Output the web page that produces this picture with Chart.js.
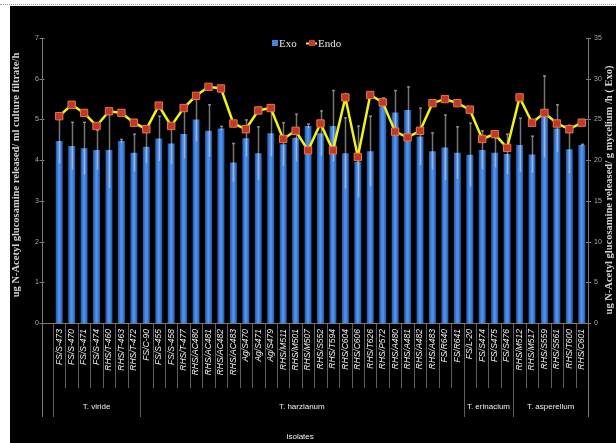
<!DOCTYPE html>
<html>
<head>
<meta charset="utf-8">
<script src="https://cdn.jsdelivr.net/npm/chart.js@4/dist/chart.umd.min.js"></script>
<style>
  html, body { margin: 0; padding: 0; background: #fff; width: 616px; height: 443px; overflow: hidden; }
  #topline { position: absolute; left: 0; top: 4px; width: 616px; border-top: 1px dotted #9a9a9a; }
  #wrap { position: absolute; left: 10px; top: 6px; width: 606px; height: 437px; background: #000; }
  canvas { display: block; }
</style>
</head>
<body>
<div id="topline"></div>
<div id="wrap"><canvas id="c" width="606" height="437"></canvas></div>
<script>
// Isolates along the x axis
const isolates = [
  'FS/S-473', 'FS/S-470', 'FS/S-471', 'FS/S-474', 'RHS/T-460', 'RHS/T-463', 'RHS/T-472',
  'FS/C-90', 'FS/S-455', 'FS/S-458', 'RHS/T-477', 'RHS/AC480', 'RHS/AC481', 'RHS/AC482',
  'RHS/AC483', 'Ag/S470', 'Ag/S471', 'Ag/S479', 'RHS/M511', 'RHS/M501', 'RHS/M507',
  'RHS/S552', 'RHS/T594', 'RHS/C604', 'RHS/C606', 'RHS/T626', 'RHS/P572', 'RHS/A480',
  'RHS/A481', 'RHS/A482', 'RHS/A483', 'FS/R640', 'FS/R641',
  'FS/L-20', 'FS/S474', 'FS/S475', 'FS/S476',
  'RHS/M512', 'RHS/M517', 'RHS/S559', 'RHS/S561', 'RHS/T600', 'RHS/C601'
];

// Species groups (consecutive isolates)
const groupNames = ['T. viride', 'T. harzianum', 'T. erinacium', 'T. asperellum'];
const groupSizes = [7, 26, 4, 6];

// Exochitinase activity (left axis) with its standard deviation
const exo = [
  4.47, 4.35, 4.29, 4.25, 4.25, 4.47, 4.18, 4.33, 4.53, 4.41, 4.64, 5.00, 4.72, 4.78,
  3.94, 4.54, 4.17, 4.66, 4.39, 4.55, 4.84, 4.66, 4.84, 4.17, 3.96, 4.22, 5.48, 5.17,
  5.23, 4.58, 4.22, 4.31, 4.18, 4.13, 4.25, 4.18, 4.15, 4.37, 4.14, 5.07, 4.78, 4.27, 4.37
];
const exoErr = [
  0.55, 0.58, 0.64, 0.49, 0.93, 0.04, 0.46, 0.40, 0.55, 0.50, 0.60, 0.53, 0.64, 0.05,
  0.47, 0.45, 0.65, 0.57, 0.53, 0.58, 0.05, 0.55, 0.87, 0.87, 0.88, 0.86, 0.05, 0.54,
  0.57, 0.70, 0.45, 0.80, 0.64, 0.78, 0.47, 0.36, 0.49, 0.66, 0.45, 1.00, 0.58, 0.59, 0.02
];

// Endochitinase activity (right axis)
const endo = [
  25.4, 26.8, 25.8, 24.2, 26.0, 25.8, 24.6, 23.8, 26.7, 24.2, 26.4, 27.9, 29.0, 28.8,
  24.5, 23.8, 26.1, 26.4, 22.6, 23.6, 21.2, 24.5, 21.2, 27.7, 20.4, 28.0, 27.1, 23.5,
  22.8, 23.6, 27.0, 27.5, 27.0, 26.2, 22.6, 23.2, 21.5, 27.7, 24.6, 25.8, 24.5, 23.8, 24.6
];

const leftTitle = 'ug N-Acetyl glucosamine released/ ml culture filtrate/h';
const rightTitle = 'ug N-Acetyl glucosamine released/ g mycelium /h ( Exo)';
const xTitle = 'Isolates';

const BAR_FRAC = 0.56;

function barGradient(c) {
  const ch = c.chart;
  const xs = ch.scales && ch.scales.x;
  if (!xs || c.type !== 'data' || !isFinite(xs.getPixelForValue(c.dataIndex))) return '#3a7bd5';
  const cx = xs.getPixelForValue(c.dataIndex);
  const hw = (xs.width / isolates.length) * BAR_FRAC / 2;
  const g = ch.ctx.createLinearGradient(cx - hw, 0, cx + hw, 0);
  g.addColorStop(0, '#2456a8');
  g.addColorStop(0.45, '#4f95ee');
  g.addColorStop(0.6, '#4a8ee8');
  g.addColorStop(1, '#2456a8');
  return g;
}

function seg(ctx, x1, y1, x2, y2) {
  ctx.beginPath(); ctx.moveTo(x1, y1); ctx.lineTo(x2, y2); ctx.stroke();
}

// Axis lines, category dividers and group separators
const frame = {
  id: 'frame',
  beforeDatasetsDraw(chart) {
    const { ctx, chartArea: a, scales: { y, y2 } } = chart;
    const n = isolates.length;
    const w = (a.right - a.left) / n;
    const axisX = Math.round(a.left - 11) + 0.5;
    const bounds = new Set([0]);
    let acc = 0;
    groupSizes.forEach(s => { acc += s; bounds.add(acc); });
    ctx.save();
    ctx.lineWidth = 1;
    ctx.strokeStyle = '#5e5e5e';
    for (let i = 0; i <= n; i++) {
      const px = Math.round(a.left + i * w) + 0.5;
      seg(ctx, px, a.bottom, px, a.bottom + (bounds.has(i) ? 94 : 65));
    }
    ctx.strokeStyle = '#7a7a7a';
    seg(ctx, axisX, a.top, axisX, a.bottom + 94);
    seg(ctx, a.right + 0.5, a.top, a.right + 0.5, a.bottom + 94);
    seg(ctx, axisX, a.bottom + 0.5, a.right, a.bottom + 0.5);
    y.ticks.forEach(t => {
      const py = Math.round(y.getPixelForValue(t.value)) + 0.5;
      seg(ctx, axisX - 3, py, axisX + 2, py);
    });
    y2.ticks.forEach(t => {
      const py = Math.round(y2.getPixelForValue(t.value)) + 0.5;
      seg(ctx, a.right - 2, py, a.right + 3, py);
    });
    ctx.restore();
  },
  // error whiskers drawn right after the bars, beneath the line
  afterDatasetDraw(chart, args) {
    if (args.index !== 0) return;
    const { ctx, scales: { x, y } } = chart;
    ctx.save();
    ctx.strokeStyle = 'rgba(215,215,215,0.55)';
    ctx.lineWidth = 1.5;
    exo.forEach((v, i) => {
      const px = Math.round(x.getPixelForValue(i)) + 0.5;
      const top = y.getPixelForValue(v + exoErr[i]);
      const bot = y.getPixelForValue(v - exoErr[i]);
      seg(ctx, px, top, px, bot);
      seg(ctx, px - 1.5, top, px + 1.5, top);
    });
    ctx.restore();
  },
  afterDraw(chart) {
    const { ctx, chartArea: a } = chart;
    const n = isolates.length;
    const w = (a.right - a.left) / n;
    ctx.save();
    // axis titles
    ctx.fillStyle = '#d4d4d4';
    ctx.font = 'bold 10.5px "Liberation Serif", serif';
    ctx.textAlign = 'center';
    ctx.textBaseline = 'middle';
    ctx.save();
    ctx.translate(6, 169);
    ctx.rotate(-Math.PI / 2);
    ctx.fillText(leftTitle, 0, 0);
    ctx.restore();
    ctx.save();
    ctx.translate(599, 184);
    ctx.rotate(-Math.PI / 2);
    ctx.fillText(rightTitle, 0, 0);
    ctx.restore();
    // group names
    ctx.fillStyle = '#f0f0f0';
    ctx.font = '8px "Liberation Sans", sans-serif';
    let start = 0;
    groupSizes.forEach((s, gi) => {
      const cx = a.left + (start + s / 2) * w;
      ctx.fillText(groupNames[gi], cx, 401);
      start += s;
    });
    ctx.fillText(xTitle, 290, 431);
    // legend
    const ds = chart.data.datasets;
    ctx.font = '11px "Liberation Serif", serif';
    ctx.textAlign = 'left';
    ctx.fillStyle = '#3f86e0';
    ctx.fillRect(262, 34, 6, 6);
    ctx.fillStyle = '#e6e6e6';
    ctx.fillText(ds[0].label, 269, 38);
    ctx.strokeStyle = '#f2f21a';
    ctx.lineWidth = 2;
    seg(ctx, 296, 37.5, 307, 37.5);
    ctx.fillStyle = '#c73a28';
    ctx.fillRect(299, 34, 6, 6);
    ctx.fillStyle = '#e6e6e6';
    ctx.fillText(ds[1].label, 308, 38);
    ctx.restore();
  }
};

new Chart(document.getElementById('c'), {
  data: {
    labels: isolates,
    datasets: [
      {
        type: 'bar',
        label: 'Exo',
        data: exo,
        yAxisID: 'y',
        order: 1,
        backgroundColor: barGradient,
        borderWidth: 0,
        categoryPercentage: 1,
        barPercentage: BAR_FRAC
      },
      {
        type: 'line',
        label: 'Endo',
        data: endo,
        yAxisID: 'y2',
        order: 0,
        borderColor: '#f2f21a',
        borderWidth: 2.5,
        tension: 0,
        pointStyle: 'rect',
        pointRadius: 5.2,
        pointBackgroundColor: '#c53626',
        pointBorderColor: '#e07a4a',
        pointBorderWidth: 1
      }
    ]
  },
  options: {
    responsive: false,
    animation: false,
    devicePixelRatio: 1,
    layout: { padding: { top: 32, left: 0, right: 0, bottom: 0 } },
    plugins: { legend: { display: false }, tooltip: { enabled: false }, title: { display: false } },
    scales: {
      x: {
        type: 'category',
        offset: true,
        grid: { display: false, drawTicks: false },
        border: { display: false },
        ticks: {
          color: '#eeeeee',
          font: { family: '"Liberation Sans", sans-serif', size: 8.5, style: 'italic' },
          minRotation: 90,
          maxRotation: 90,
          autoSkip: false,
          padding: 6
        },
        afterFit(s) { s.height = 120; }
      },
      y: {
        position: 'left',
        min: 0,
        max: 7,
        grid: { display: false, drawTicks: false },
        border: { display: false },
        ticks: { stepSize: 1, color: '#a8a8a8', padding: 14, font: { family: '"Liberation Sans", sans-serif', size: 7 } },
        afterFit(s) { s.width = 43; }
      },
      y2: {
        position: 'right',
        min: 0,
        max: 35,
        grid: { display: false, drawTicks: false },
        border: { display: false },
        ticks: { stepSize: 5, color: '#a8a8a8', padding: 6, font: { family: '"Liberation Sans", sans-serif', size: 7 } },
        afterFit(s) { s.width = 28; }
      }
    }
  },
  plugins: [frame]
});
</script>
</body>
</html>
